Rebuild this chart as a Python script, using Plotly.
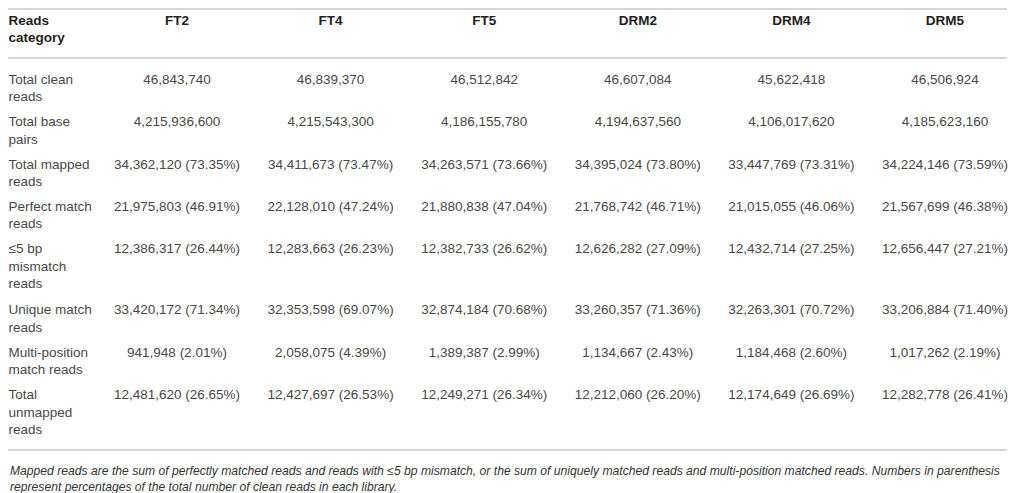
import plotly.graph_objects as go

# ---- data -------------------------------------------------------------
libraries = ["FT2", "FT4", "FT5", "DRM2", "DRM4", "DRM5"]
header_label = "Reads<br>category"

categories = [
    "Total clean<br>reads",
    "Total base<br>pairs",
    "Total mapped<br>reads",
    "Perfect match<br>reads",
    "\u22645 bp<br>mismatch<br>reads",
    "Unique match<br>reads",
    "Multi-position<br>match reads",
    "Total<br>unmapped<br>reads",
]

total_clean = [46843740, 46839370, 46512842, 46607084, 45622418, 46506924]
total_bp = [4215936600, 4215543300, 4186155780, 4194637560, 4106017620, 4185623160]
mapped = [34362120, 34411673, 34263571, 34395024, 33447769, 34224146]
mapped_pct = [73.35, 73.47, 73.66, 73.80, 73.31, 73.59]
perfect = [21975803, 22128010, 21880838, 21768742, 21015055, 21567699]
perfect_pct = [46.91, 47.24, 47.04, 46.71, 46.06, 46.38]
mismatch = [12386317, 12283663, 12382733, 12626282, 12432714, 12656447]
mismatch_pct = [26.44, 26.23, 26.62, 27.09, 27.25, 27.21]
unique = [33420172, 32353598, 32874184, 33260357, 32263301, 33206884]
unique_pct = [71.34, 69.07, 70.68, 71.36, 70.72, 71.40]
multi = [941948, 2058075, 1389387, 1134667, 1184468, 1017262]
multi_pct = [2.01, 4.39, 2.99, 2.43, 2.60, 2.19]
unmapped = [12481620, 12427697, 12249271, 12212060, 12174649, 12282778]
unmapped_pct = [26.65, 26.53, 26.34, 26.20, 26.69, 26.41]

caption = (
    "Mapped reads are the sum of perfectly matched reads and reads with \u22645 bp mismatch, "
    "or the sum of uniquely matched reads and multi-position matched reads. Numbers in parenthesis"
    "<br>represent percentages of the total number of clean reads in each library."
)


def fmt(values, pcts=None):
    if pcts is None:
        return [f"{v:,}" for v in values]
    return [f"{v:,} ({p:.2f}%)" for v, p in zip(values, pcts)]


rows = [
    fmt(total_clean),
    fmt(total_bp),
    fmt(mapped, mapped_pct),
    fmt(perfect, perfect_pct),
    fmt(mismatch, mismatch_pct),
    fmt(unique, unique_pct),
    fmt(multi, multi_pct),
    fmt(unmapped, unmapped_pct),
]

# ---- layout constants ------------------------------------------------
# the page body has an 8px margin, so the figure is sized to fit inside the
# visible area and every target position (page pixels) is shifted by that margin
OFFSET = 8
W, H = 1016 - 2 * OFFSET, 493 - OFFSET
FS = 13.5
COL0 = 177.0 - OFFSET     # centre of first data column
PITCH = 153.6             # distance between data columns
LABEL_PX = 0.5            # left edge of the category column
RULE_END_PX = W - 1
LINE_H = 18.7
ROW_PAD = 5.0
HEADER_LINE = 20.0 - OFFSET
FIRST_LINE = 79.0 - OFFSET
RULES_Y = [1, 58 - OFFSET, 450 - OFFSET]
CAPTION_MID = 478.5 - OFFSET

x_lo = -COL0 / PITCH
x_hi = (W - COL0) / PITCH
label_x = x_lo + LABEL_PX / PITCH
rule_x1 = x_lo + RULE_END_PX / PITCH

# first-line centre of each body row, from the number of lines in its label
line_centres = []
c = FIRST_LINE
for lab in categories:
    line_centres.append(c)
    n = lab.count("<br>") + 1
    c += n * LINE_H + ROW_PAD
tops = [y - 0.4 * FS for y in line_centres]

body_x, body_y, body_text = [], [], []
for r, vals in enumerate(rows):
    for j, v in enumerate(vals):
        body_x.append(j)
        body_y.append(tops[r])
        body_text.append(v)

font_body = dict(family="Liberation Sans, Arial, sans-serif", size=FS, color="#484848")
font_head = dict(family="Liberation Sans, Arial, sans-serif", size=FS, color="#1e1e1e", weight="bold")

fig = go.Figure()

fig.add_trace(go.Scatter(
    x=[label_x], y=[HEADER_LINE - 0.4 * FS], text=[header_label],
    mode="text", textposition="bottom right", textfont=font_head, hoverinfo="skip",
))
fig.add_trace(go.Scatter(
    x=list(range(len(libraries))), y=[HEADER_LINE - 0.4 * FS] * len(libraries),
    text=libraries, mode="text", textposition="bottom center", textfont=font_head,
    hoverinfo="skip",
))
fig.add_trace(go.Scatter(
    x=[label_x] * len(categories), y=tops, text=categories,
    mode="text", textposition="bottom right", textfont=font_body, hoverinfo="skip",
))
fig.add_trace(go.Scatter(
    x=body_x, y=body_y, text=body_text,
    mode="text", textposition="bottom center", textfont=font_body, hoverinfo="skip",
))

for ry in RULES_Y:
    fig.add_shape(type="line", xref="x", yref="y", x0=x_lo, x1=rule_x1, y0=ry, y1=ry,
                  line=dict(color="#c8c8c8", width=1.5))

fig.add_annotation(
    xref="x", yref="y", x=label_x, y=CAPTION_MID, xanchor="left", yanchor="middle",
    text=caption, showarrow=False, align="left", borderpad=0,
    font=dict(family="Liberation Sans, Arial, sans-serif", size=12.15, color="#333333",
              style="italic"),
)

fig.update_layout(
    width=W, height=H,
    margin=dict(l=0, r=0, t=0, b=0),
    paper_bgcolor="white", plot_bgcolor="white",
    showlegend=False,
    xaxis=dict(range=[x_lo, x_hi], visible=False, fixedrange=True),
    yaxis=dict(range=[H, 0], visible=False, fixedrange=True),
)

fig.write_html("out.html")
